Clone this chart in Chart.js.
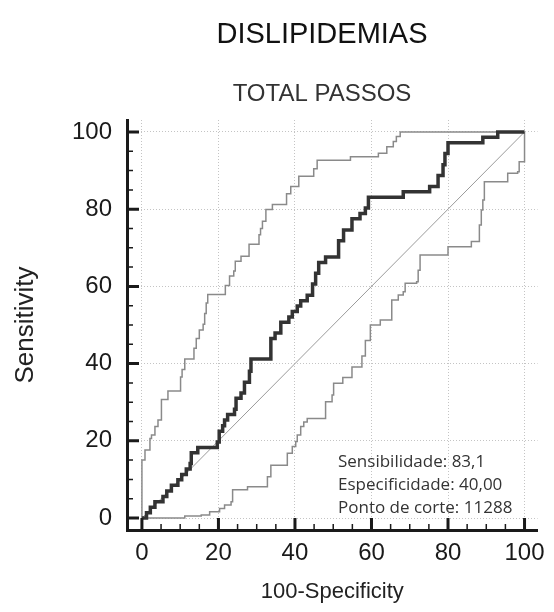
<!DOCTYPE html>
<html>
<head>
<meta charset="utf-8">
<script src="https://cdn.jsdelivr.net/npm/chart.js@4.4.1/dist/chart.umd.min.js"></script>
<style>
  html, body { margin: 0; padding: 0; background: #ffffff; }
  #roc { display: block; }
</style>
</head>
<body>
<canvas id="roc" width="554" height="612"></canvas>
<script>
// ROC curve (100-Specificity, Sensitivity), stepped: go right, then up
const rocX = [0, 1.2, 2.2, 3.4, 5.5, 6.5, 7.7, 9.4, 10.4, 11.6, 12.6, 12.9, 14.6, 19.7, 20.2, 21.1, 21.6, 22.4, 24.2, 24.6,
              25.9, 26.8, 28.1, 28.5, 33.7, 33.7, 34.8, 36.3, 38.4, 39.3, 40.6, 41.5, 43.2, 44.6, 45.4, 46.2, 48.0, 51.4, 51.4, 52.7,
              52.7, 54.9, 54.9, 57.0, 58.4, 59.2, 68.3, 75.2, 77.4, 77.4, 78.7, 79.2, 80.0, 89.1, 93.0, 100];
const rocY = [0, 1.4, 2.8, 4.2, 5.6, 7.0, 8.5, 9.9, 11.3, 12.7, 14.1, 16.9, 18.3, 19.7, 22.5, 23.9, 25.4, 26.8, 28.2, 31.0,
              32.4, 35.2, 38.0, 41.2, 43.7, 46.5, 47.9, 50.7, 52.1, 53.5, 54.9, 56.3, 57.7, 60.6, 63.4, 66.2, 67.6, 70.4, 71.8, 73.2,
              74.6, 76.1, 77.5, 78.9, 80.3, 83.1, 84.5, 85.9, 87.3, 88.7, 91.5, 94.4, 97.2, 98.6, 100, 100];

// upper confidence bound
const upperX = [0, 0, 0.8, 2.1, 2.5, 3.4, 4.2, 5.1, 6.8, 10.1, 10.5, 11.2, 13.6, 14.2, 15.0, 16.0, 16.4, 16.8, 17.2, 21.8,
                22.9, 24.0, 24.4, 25.9, 28.0, 30.6, 31.0, 31.5, 32.4, 34.1, 37.8, 38.9, 41.0, 44.9, 45.8, 54.5, 61.8, 64.0, 65.7, 66.5,
                67.5, 100];
const upperY = [0, 15, 17.6, 20.6, 21.5, 23.7, 25.4, 30.7, 32.9, 36.5, 38.5, 41.2, 44.0, 46.5, 48.7, 50.2, 53.0, 55.7, 57.9, 60.2,
                62.7, 64.0, 66.5, 67.8, 70.9, 73.4, 75.0, 76.9, 79.9, 81.2, 84.0, 85.9, 88.5, 90.5, 92.7, 93.6, 94.5, 96.2, 97.5, 98.8,
                100, 100];

// lower confidence bound
const lowerX = [0, 11.2, 15.5, 17.7, 20.3, 21.6, 23.3, 23.7, 27.6, 32.8, 33.7, 38.0, 39.3, 40.2, 40.6, 41.5, 42.3, 43.2, 48.0, 48.0,
                49.7, 50.1, 52.5, 54.9, 57.5, 58.4, 59.7, 59.7, 62.3, 65.3, 67.0, 68.3, 68.8, 71.8, 72.2, 72.7, 80.0, 80.0, 86.1, 88.2,
                88.2, 88.7, 89.1, 89.5, 95.6, 98.2, 98.6, 100, 100];
const lowerY = [0, 0.5, 0.8, 1.6, 2.5, 3.4, 4.2, 7.3, 8.1, 10.7, 13.7, 16.8, 18.5, 19.8, 21.5, 23.7, 24.9, 25.8, 28.0, 30.1,
                31.9, 34.9, 36.4, 39.1, 42.0, 46.0, 47.5, 50.0, 51.3, 56.5, 57.8, 58.6, 60.8, 61.2, 64.2, 68.1, 68.6, 70.3, 71.6, 72.0,
                75.9, 79.8, 82.4, 87.1, 89.3, 89.7, 92.3, 92.3, 100];

// reference line
const diagX = [0, 100];
const diagY = [0, 100];

const tickValues = [0, 20, 40, 60, 80, 100];
const titleText = 'DISLIPIDEMIAS';
const subtitleText = 'TOTAL PASSOS';
const infoLines = ['Sensibilidade: 83,1', 'Especificidade: 40,00', 'Ponto de corte: 11288'];

const toPoints = ( xs, ys ) => xs.map( ( x, i ) => ( { x: x, y: ys[ i ] } ) );

const decorations = {
    id: 'decorations',
    afterDraw( chart ) {
        const { ctx, chartArea, scales: { x, y } } = chart;
        ctx.save();
        // tick marks pointing into the plot
        ctx.strokeStyle = '#1a1a1a';
        for ( let v = 0; v <= 100; v += 5 ) {
            const major = v % 20 === 0,
                len = major ? 12 : 6;
            ctx.lineWidth = major ? 3 : 1.5;
            const px = x.getPixelForValue( v ),
                py = y.getPixelForValue( v );
            ctx.beginPath();
            ctx.moveTo( px, chartArea.bottom );
            ctx.lineTo( px, chartArea.bottom - len );
            ctx.moveTo( chartArea.left, py );
            ctx.lineTo( chartArea.left + len, py );
            ctx.stroke();
        }
        // titles
        const cx = 322;
        ctx.fillStyle = '#111111';
        ctx.textAlign = 'center';
        ctx.textBaseline = 'alphabetic';
        ctx.font = '29px "Liberation Sans", Arial, sans-serif';
        ctx.fillText( titleText, cx, 43 );
        ctx.fillStyle = '#333333';
        ctx.font = '24px "Liberation Sans", Arial, sans-serif';
        ctx.fillText( subtitleText, cx, 101 );
        // info text
        ctx.fillStyle = '#333333';
        ctx.textAlign = 'left';
        ctx.font = '17px "Open Sans", Lato, sans-serif';
        infoLines.forEach( ( line, i ) => ctx.fillText( line, 338, 467 + i * 23 ) );
        ctx.restore();
    }
};

const axisFont = { family: '"Liberation Sans", Arial, sans-serif', size: 24 };

new Chart( document.getElementById( 'roc' ), {
    type: 'scatter',
    data: {
        datasets: [
            { data: toPoints( rocX, rocY ), showLine: true, stepped: true, borderColor: '#333333', borderWidth: 3.5, pointRadius: 0 },
            { data: toPoints( upperX, upperY ), showLine: true, stepped: true, borderColor: '#8a8a8a', borderWidth: 1.5, pointRadius: 0 },
            { data: toPoints( lowerX, lowerY ), showLine: true, stepped: true, borderColor: '#8a8a8a', borderWidth: 1.5, pointRadius: 0 },
            { data: toPoints( diagX, diagY ), showLine: true, borderColor: '#9a9a9a', borderWidth: 1, pointRadius: 0 }
        ]
    },
    options: {
        responsive: false,
        animation: false,
        layout: { padding: { top: 120, right: 14, left: 0, bottom: 0 } },
        plugins: {
            legend: { display: false },
            tooltip: { enabled: false }
        },
        scales: {
            x: {
                type: 'linear',
                min: -3.9,
                max: 103.4,
                afterBuildTicks: s => { s.ticks = tickValues.map( v => ( { value: v } ) ); },
                afterFit: s => { s.height = 82; },
                grid: { color: '#c4c4c4', lineWidth: 1, drawTicks: false },
                border: { color: '#1a1a1a', width: 3, dash: [ 1, 2 ] },
                ticks: { padding: 9, font: axisFont, color: '#1a1a1a', maxRotation: 0, autoSkip: false },
                title: { display: true, text: '100-Specificity', font: { family: axisFont.family, size: 22 }, color: '#222222', padding: { top: 0, bottom: 7 } }
            },
            y: {
                type: 'linear',
                min: -3.1,
                max: 103.1,
                afterBuildTicks: s => { s.ticks = tickValues.map( v => ( { value: v } ) ); },
                afterFit: s => { s.width = 127; },
                grid: { color: '#c4c4c4', lineWidth: 1, drawTicks: false },
                border: { color: '#1a1a1a', width: 3, dash: [ 1, 2 ] },
                ticks: { padding: 15, font: axisFont, color: '#1a1a1a', autoSkip: false },
                title: { display: true, text: 'Sensitivity', font: { family: axisFont.family, size: 26 }, color: '#222222', padding: { top: 10, bottom: 0 } }
            }
        }
    },
    plugins: [ decorations ]
} );
</script>
</body>
</html>
